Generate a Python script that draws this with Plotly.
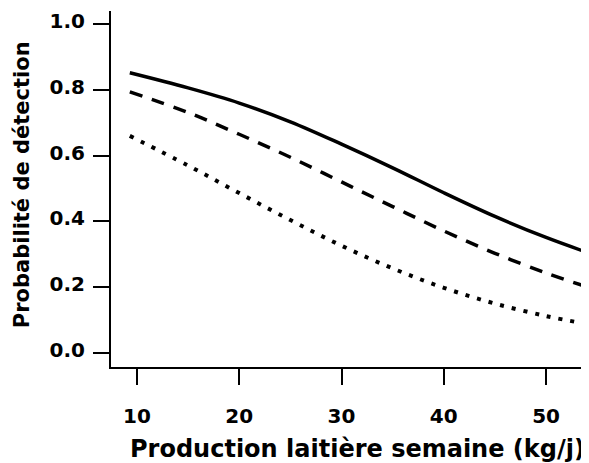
import plotly.graph_objects as go

# Data
production = [9.3, 15, 20, 25, 30, 35, 40, 45, 50, 53.8]
prob_solid = [0.852, 0.806, 0.760, 0.703, 0.635, 0.563, 0.487, 0.415, 0.351, 0.308]
prob_dashed = [0.794, 0.731, 0.665, 0.595, 0.520, 0.445, 0.371, 0.303, 0.243, 0.203]
prob_dotted = [0.660, 0.570, 0.486, 0.404, 0.326, 0.257, 0.198, 0.150, 0.112, 0.089]
x_ticks = [10, 20, 30, 40, 50]
y_ticks = [0.0, 0.2, 0.4, 0.6, 0.8, 1.0]
y_ticklabels = ["0.0", "0.2", "0.4", "0.6", "0.8", "1.0"]

FONT = "DejaVu Sans"

fig = go.Figure()
fig.add_trace(go.Scatter(x=production, y=prob_solid, mode="lines",
                         line=dict(color="black", width=3.5, dash="solid", shape="spline"),
                         showlegend=False))
fig.add_trace(go.Scatter(x=production, y=prob_dashed, mode="lines",
                         line=dict(color="black", width=3.5, dash="13px,10px", shape="spline"),
                         showlegend=False))
fig.add_trace(go.Scatter(x=production, y=prob_dotted, mode="lines",
                         line=dict(color="black", width=4, dash="4px,8px", shape="spline"),
                         showlegend=False))

# the page body has an 8px margin, so the figure is sized/offset to compensate
fig.update_layout(
    width=581, height=455,
    margin=dict(l=103, r=0, t=3, b=96),
    paper_bgcolor="white", plot_bgcolor="white",
    font=dict(family=FONT, color="black"),
    xaxis=dict(range=[7.46, 54.2], tickvals=x_ticks, showgrid=False, zeroline=False,
               showline=True, linecolor="black", linewidth=2,
               ticks="outside", ticklen=16, tickwidth=2, tickcolor="black",
               tickfont=dict(family=FONT, size=20, weight="bold", color="black"),
               ticklabelstandoff=14),
    yaxis=dict(range=[-0.043, 1.04], tickvals=y_ticks, ticktext=y_ticklabels,
               showgrid=False, zeroline=False,
               showline=True, linecolor="black", linewidth=2,
               ticks="outside", ticklen=16, tickwidth=2, tickcolor="black",
               tickfont=dict(family=FONT, size=20, weight="bold", color="black"),
               ticklabelstandoff=4, ticklabelshift=-3),
    annotations=[
        dict(text="Production laitière semaine (kg/j)", xref="paper", yref="paper",
             x=0.515, y=-0.230, xanchor="center", yanchor="middle", showarrow=False,
             font=dict(family=FONT, size=24, weight="bold", color="black")),
        dict(text="Probabilité de détection", xref="paper", yref="paper",
             x=-0.186, y=0.511, xanchor="center", yanchor="middle", showarrow=False,
             textangle=-90,
             font=dict(family=FONT, size=21, weight="bold", color="black")),
    ],
)

fig.write_html("out.html")
